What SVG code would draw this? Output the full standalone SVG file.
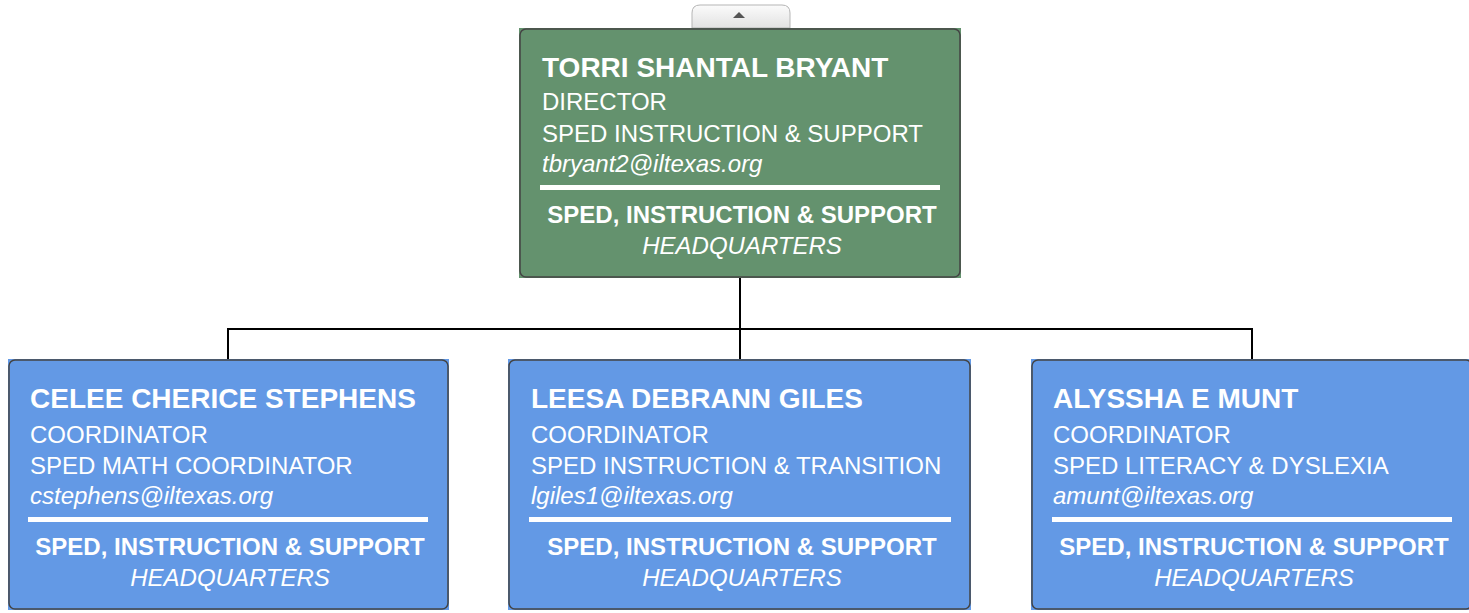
<svg xmlns="http://www.w3.org/2000/svg" width="1469" height="613" viewBox="0 0 1469 613">
<defs>
<linearGradient id="tabg" x1="0" y1="0" x2="0" y2="1">
<stop offset="0" stop-color="#fbfbfb"/>
<stop offset="1" stop-color="#e2e2e2"/>
</linearGradient>
</defs>
<style>
.t{font-family:"Liberation Sans",Arial,sans-serif;fill:#fff}
.nm{font-size:28px;font-weight:bold}
.rg{font-size:24px}
.em{font-size:24px;font-style:italic}
.dp{font-size:24px;font-weight:bold;text-anchor:middle}
.hq{font-size:24px;font-style:italic;text-anchor:middle}
.bd{fill:none;stroke:#444;stroke-width:1.5}
.sep{fill:#fff}
.conn{fill:none;stroke:#000;stroke-width:2}
</style>
<rect width="1469" height="613" fill="#fff"/>
<g id="connectors">
<path class="conn" d="M740 278V329M228 360V329H1252V360M740 329V360"/>
</g>
<g id="expand-tab">
<path d="M692 28V13Q692 5 700 5H782Q790 5 790 13V28Z" fill="url(#tabg)" stroke="#b5b5b5" stroke-width="1"/>
<path d="M733 18L745 18L739 12Z" fill="#555"/>
</g>
<g id="node-torri">
<rect x="519" y="28" width="442" height="250" fill="#64926E"/>
<rect class="bd" x="520" y="29" width="440" height="248" rx="6"/>
<text class="t nm" x="542" y="77">TORRI SHANTAL BRYANT</text>
<text class="t rg" x="542" y="110">DIRECTOR</text>
<text class="t rg" x="542" y="142">SPED INSTRUCTION &amp; SUPPORT</text>
<text class="t em" x="542" y="172">tbryant2@iltexas.org</text>
<rect class="sep" x="540" y="185" width="400" height="5"/>
<text class="t dp" x="742" y="223">SPED, INSTRUCTION &amp; SUPPORT</text>
<text class="t hq" x="742" y="254">HEADQUARTERS</text>
</g>
<g id="node-celee">
<rect x="8" y="359" width="441" height="251" fill="#6399E5"/>
<rect class="bd" x="9" y="360" width="439" height="249" rx="6"/>
<text class="t nm" x="30" y="408">CELEE CHERICE STEPHENS</text>
<text class="t rg" x="30" y="443">COORDINATOR</text>
<text class="t rg" x="30" y="474">SPED MATH COORDINATOR</text>
<text class="t em" x="30" y="504">cstephens@iltexas.org</text>
<rect class="sep" x="28" y="517" width="400" height="5"/>
<text class="t dp" x="230" y="555">SPED, INSTRUCTION &amp; SUPPORT</text>
<text class="t hq" x="230" y="586">HEADQUARTERS</text>
</g>
<g id="node-leesa">
<rect x="508" y="359" width="463" height="251" fill="#6399E5"/>
<rect class="bd" x="509" y="360" width="461" height="249" rx="6"/>
<text class="t nm" x="531" y="408">LEESA DEBRANN GILES</text>
<text class="t rg" x="531" y="443">COORDINATOR</text>
<text class="t rg" x="531" y="474">SPED INSTRUCTION &amp; TRANSITION</text>
<text class="t em" x="531" y="504">lgiles1@iltexas.org</text>
<rect class="sep" x="529" y="517" width="422" height="5"/>
<text class="t dp" x="742" y="555">SPED, INSTRUCTION &amp; SUPPORT</text>
<text class="t hq" x="742" y="586">HEADQUARTERS</text>
</g>
<g id="node-alyssha">
<rect x="1031" y="359" width="442" height="251" fill="#6399E5"/>
<rect class="bd" x="1032" y="360" width="440" height="249" rx="6"/>
<text class="t nm" x="1053" y="408">ALYSSHA E MUNT</text>
<text class="t rg" x="1053" y="443">COORDINATOR</text>
<text class="t rg" x="1053" y="474">SPED LITERACY &amp; DYSLEXIA</text>
<text class="t em" x="1053" y="504">amunt@iltexas.org</text>
<rect class="sep" x="1052" y="517" width="400" height="5"/>
<text class="t dp" x="1254" y="555">SPED, INSTRUCTION &amp; SUPPORT</text>
<text class="t hq" x="1254" y="586">HEADQUARTERS</text>
</g>
</svg>
